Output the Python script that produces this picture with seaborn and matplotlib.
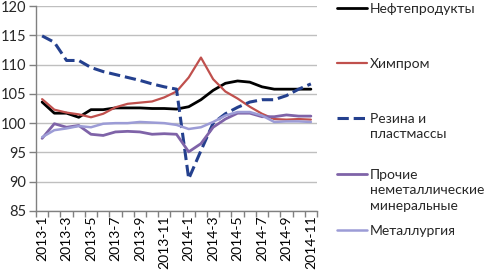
import matplotlib
matplotlib.use("Agg")
import matplotlib.pyplot as plt
import seaborn as sns
import pandas as pd
import numpy as np
from matplotlib.lines import Line2D

months = [f"{y}-{m}" for y in (2013, 2014) for m in range(1, 13)][:23]

neft = [103.6, 101.7, 101.7, 101.0, 102.3, 102.3, 102.6, 102.6, 102.6, 102.5, 102.5, 102.4,
        102.8, 104.0, 105.6, 106.8, 107.2, 107.0, 106.2, 105.8, 105.8, 105.8, 105.8]
khim = [104.1, 102.3, 101.8, 101.5, 101.0, 101.6, 102.7, 103.3, 103.5, 103.7, 104.4, 105.4,
        107.8, 111.2, 107.5, 105.4, 104.2, 102.8, 101.6, 100.7, 100.6, 100.7, 100.6]
rezina = [114.9, 113.8, 110.7, 110.7, 109.5, 108.8, 108.3, 107.8, 107.3, 106.7, 106.2, 105.8,
          90.5, 95.3, 100.0, 101.6, 102.7, 103.6, 104.0, 104.0, 104.7, 105.8, 106.7]
prochie = [97.4, 99.9, 99.3, 99.6, 98.1, 97.9, 98.5, 98.6, 98.5, 98.1, 98.2, 98.1,
           95.1, 96.5, 99.3, 100.7, 101.7, 101.7, 101.1, 101.1, 101.4, 101.2, 101.2]
metall = [97.6, 98.8, 99.1, 99.5, 99.3, 99.9, 100.0, 100.0, 100.2, 100.1, 100.0, 99.7,
          99.0, 99.3, 100.2, 101.3, 101.9, 101.9, 101.3, 100.2, 100.3, 100.3, 100.2]

labels = ["Нефтепродукты", "Химпром", "Резина и\nпластмассы",
          "Прочие\nнеметаллические\nминеральные", "Металлургия"]
colors = ["#000000", "#C0504D", "#24408E", "#7F63A8", "#9C9CD6"]
styles = ["-", "-", "--", "-", "-"]
widths = [2.0, 1.6, 2.2, 2.0, 1.8]
series = [neft, khim, rezina, prochie, metall]

sns.set_theme(style="white")
plt.rcParams['font.family'] = ['Lato', 'DejaVu Sans']

fig = plt.figure(figsize=(4.86, 2.72), dpi=100)
W, H = 486, 272
ax = fig.add_axes([36 / W, (H - 211) / H, 281 / W, 205 / H])

x = np.arange(len(months))
for s, lab, c, ls, lw in zip(series, labels, colors, styles, widths):
    df = pd.DataFrame({"x": x, "v": s})
    sns.lineplot(data=df, x="x", y="v", ax=ax, color=c, linestyle=ls, lw=lw,
                 legend=False, zorder=3)

ax.set_xlim(-0.5, len(months) - 0.5)
ax.set_ylim(85, 120)
ax.set_yticks(np.arange(85, 121, 5))
ax.yaxis.grid(True, color="#BFBFBF", lw=1.0)
ax.set_xlabel("")
ax.set_ylabel("")
for sp in ["top", "right"]:
    ax.spines[sp].set_visible(False)
for sp in ["left", "bottom"]:
    ax.spines[sp].set_color("#808080")
    ax.spines[sp].set_linewidth(1.0)

ax.set_xticks(x[::2])
ax.set_xticklabels(months[::2], rotation=90, fontsize=10, color="#000000")
ax.set_xticks(np.arange(-0.5, len(months), 1), minor=True)
ax.tick_params(axis="x", which="major", length=0, pad=3)
ax.tick_params(axis="x", which="minor", length=4, color="#808080", width=1, bottom=True)
ax.tick_params(axis="y", length=5, color="#808080", width=1, labelsize=10.5, left=True, pad=2)

# legend entries
ys = [8, 63, 118, 174, 230]
for lab, c, ls, lw, yy in zip(labels, colors, styles, widths, ys):
    fy = 1 - yy / H
    fig.add_artist(Line2D([337 / W, 367 / W], [fy, fy], color=c, linestyle=ls,
                          lw=lw, transform=fig.transFigure))
    fig.text(370 / W, fy + 5 / H, lab, ha="left", va="top", fontsize=10,
             linespacing=1.35, transform=fig.transFigure)

fig.savefig("out.png", dpi=100)
